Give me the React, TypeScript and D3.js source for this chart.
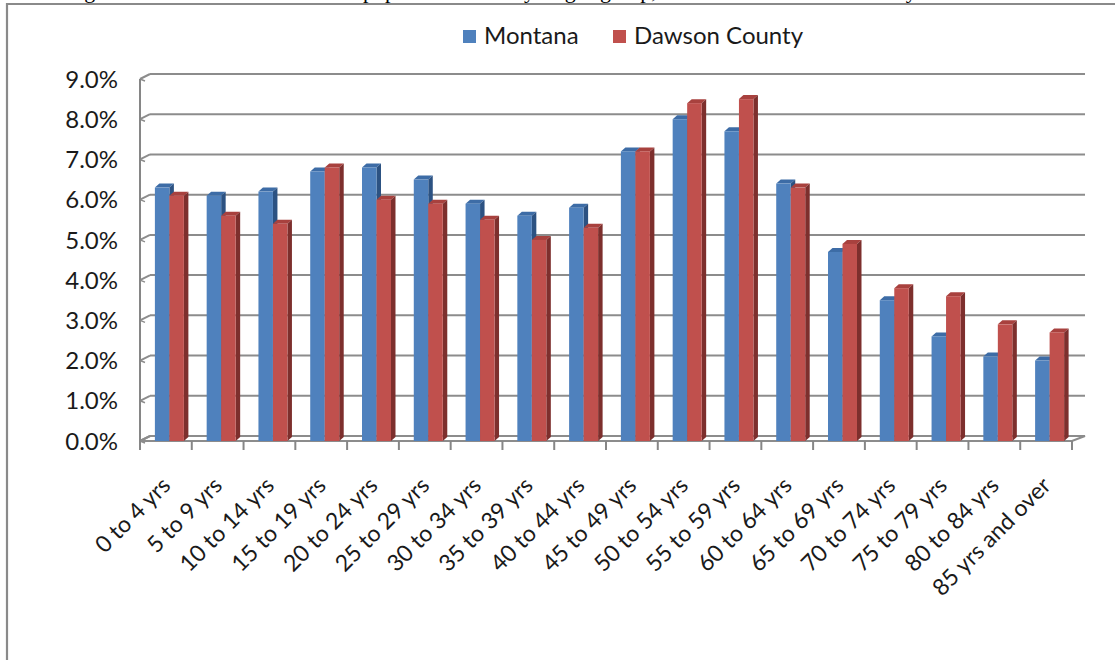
import React from 'react';
import * as d3 from 'd3';

const categories = [
  '0 to 4 yrs', '5 to 9 yrs', '10 to 14 yrs', '15 to 19 yrs', '20 to 24 yrs',
  '25 to 29 yrs', '30 to 34 yrs', '35 to 39 yrs', '40 to 44 yrs', '45 to 49 yrs',
  '50 to 54 yrs', '55 to 59 yrs', '60 to 64 yrs', '65 to 69 yrs', '70 to 74 yrs',
  '75 to 79 yrs', '80 to 84 yrs', '85 yrs and over',
];
const montana = [6.3, 6.1, 6.2, 6.7, 6.8, 6.5, 5.9, 5.6, 5.8, 7.2, 8.0, 7.7, 6.4, 4.7, 3.5, 2.6, 2.1, 2.0];
const dawson = [6.1, 5.6, 5.4, 6.8, 6.0, 5.9, 5.5, 5.0, 5.3, 7.2, 8.4, 8.5, 6.3, 4.9, 3.8, 3.6, 2.9, 2.7];
const seriesNames = ['Montana', 'Dawson County'];
const yTicks = [0, 1, 2, 3, 4, 5, 6, 7, 8, 9];

const W = 1115;
const H = 660;
const FONT = 'Lato, "Open Sans", sans-serif';

// front plane vs back wall of the 3d box
const front = { left: 140, right: 1072, bottom: 441, top: 79 };
const back = { left: 150, right: 1085, bottom: 436, top: 74 };
const depth = { dx: 4.5, dy: 4 };

const colours = [
  { face: '#4F81BD', top: '#3D6CA6', side: '#2C5282' },
  { face: '#C0504D', top: '#A8413E', side: '#7D2F2D' },
];

const gridColour = '#8C8C8C';

export default function App() {
  const yFront = d3.scaleLinear().domain([0, 9]).range([front.bottom, front.top]);
  const yBack = d3.scaleLinear().domain([0, 9]).range([back.bottom, back.top]);

  const x0 = d3.scaleBand<string>()
    .domain(categories)
    .range([front.left, front.right])
    .paddingInner(0.44)
    .paddingOuter(0.22);
  const x1 = d3.scaleBand<string>()
    .domain(seriesNames)
    .range([0, x0.bandwidth()]);

  const step = x0.step();
  const shift = 3.5;

  const rows = categories.map((c, i) => ({ cat: c, values: [montana[i], dawson[i]] }));

  const bar = (xl: number, w: number, v: number, col: typeof colours[0], key: string) => {
    const yt = yFront(v);
    const yb = yFront(0);
    const { dx, dy } = depth;
    const topPts = `${xl},${yt} ${xl + w},${yt} ${xl + w + dx},${yt - dy} ${xl + dx},${yt - dy}`;
    const sidePts = `${xl + w},${yt} ${xl + w + dx},${yt - dy} ${xl + w + dx},${yb - dy} ${xl + w},${yb}`;
    return (
      <g key={key}>
        <polygon points={topPts} fill={col.top} />
        <polygon points={sidePts} fill={col.side} />
        <rect x={xl} y={yt} width={w} height={yb - yt} fill={col.face} />
      </g>
    );
  };

  return (
    <svg width={W} height={H} style={{ position: 'absolute', left: 0, top: 0, background: '#fff' }}
      fontFamily={FONT}>
      <rect x={0} y={0} width={W} height={H} fill="#fff" />

      {/* caption above the chart, clipped by the page edge */}
      <text y={-2} fontFamily='"Liberation Serif", "DejaVu Serif", serif' fontSize={22} fill="#000">
        <tspan x={66}>Figure</tspan>
        <tspan x={135}>5: Percent of the total</tspan>
        <tspan x={363}>population</tspan>
        <tspan x={513}>by</tspan>
        <tspan x={555}>age</tspan>
        <tspan x={600}>group,</tspan>
        <tspan x={668}>Montana and</tspan>
        <tspan x={785}>Dawson</tspan>
        <tspan x={852}>County</tspan>
      </text>

      {/* chart frame */}
      <path d={`M7,${H} L7,4 L${W},4`} fill="none" stroke="#8A8A8A" strokeWidth={2.2} />

      {/* legend */}
      {seriesNames.map((s, i) => {
        const lx = i === 0 ? 463 : 613;
        return (
          <g key={s}>
            <rect x={lx} y={30} width={13} height={13} fill={colours[i].face} />
            <text x={lx + 21} y={44} fontSize={24} fill="#1a1a1a">{s}</text>
          </g>
        );
      })}

      {/* back wall gridlines */}
      {yTicks.filter(t => t > 0).map(t => (
        <line key={'g' + t} x1={back.left} x2={back.right} y1={yBack(t)} y2={yBack(t)}
          stroke={gridColour} strokeWidth={2} />
      ))}

      {/* side wall links and small ticks */}
      {yTicks.map(t => (
        <g key={'s' + t}>
          <line x1={front.left} y1={yFront(t)} x2={back.left} y2={yBack(t)} stroke={gridColour} strokeWidth={2} />
          <line x1={front.left} y1={yFront(t)} x2={front.left + 5} y2={yFront(t) + 2} stroke={gridColour} strokeWidth={1.5} />
        </g>
      ))}

      {/* floor */}
      <path d={`M${front.left},${front.bottom} L${front.right},${front.bottom} L${back.right},${back.bottom} L${back.left},${back.bottom} Z`}
        fill="none" stroke={gridColour} strokeWidth={2} />

      {/* value axis */}
      <line x1={front.left} x2={front.left} y1={yFront(9)} y2={front.bottom + 9} stroke="#868686" strokeWidth={2} />
      {yTicks.map(t => (
        <text key={'yl' + t} x={118} y={yFront(t)} dy="0.36em" textAnchor="end" fontSize={24} fill="#1a1a1a">
          {d3.format('.1f')(t) + '%'}
        </text>
      ))}

      {/* category ticks */}
      {d3.range(categories.length + 1).map(i => (
        <line key={'t' + i} x1={front.left + i * step} x2={front.left + i * step}
          y1={front.bottom} y2={front.bottom + 9} stroke="#868686" strokeWidth={2} />
      ))}

      {/* bars */}
      {rows.map(r => (
        <g key={r.cat}>
          {r.values.map((v, j) =>
            bar((x0(r.cat) as number) + (x1(seriesNames[j]) as number) + shift, x1.bandwidth(), v, colours[j], r.cat + j))}
        </g>
      ))}

      {/* category labels */}
      {categories.map(c => {
        const cx = (x0(c) as number) + x0.bandwidth() / 2;
        return (
          <text key={'xl' + c} transform={`translate(${cx + 6},${487}) rotate(-45)`} textAnchor="end"
            fontSize={23} fill="#1a1a1a">{c}</text>
        );
      })}
    </svg>
  );
}
